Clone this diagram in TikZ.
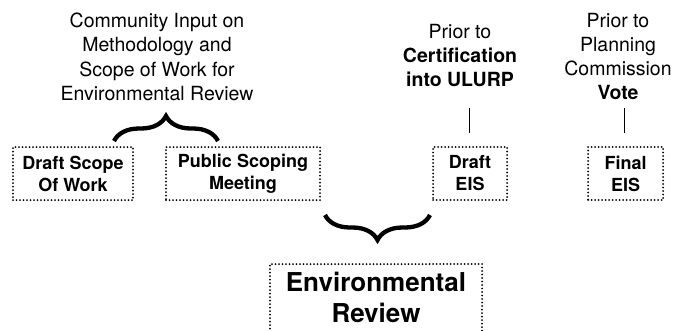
\documentclass[tikz,border=0pt]{standalone}
\usepackage{fontspec}
\setmainfont{TeX Gyre Heros}
\usetikzlibrary{decorations.pathreplacing}
\tikzset{
  dotline/.style={line width=2pt, line cap=round, dash pattern=on 0pt off 3.5pt},
  dotbox/.style={draw, dotline, inner sep=0pt, align=center, font=\bfseries\fontsize{18}{22}\selectfont},
  label/.style={inner sep=0pt, align=center, font=\fontsize{19.5}{24.5}\selectfont},
  bigbrace/.style={decorate, decoration={brace, amplitude=25pt}, line width=4.3pt},
  tick/.style={line width=1pt}
}
\begin{document}
\begin{tikzpicture}[x=1pt,y=-1pt]
\useasboundingbox (0,0) rectangle (687,330);
% boxes
\node[dotbox, minimum width=120pt, minimum height=53pt] (ds) at (73,173.5) {Draft Scope\\Of Work};
\node[dotbox, minimum width=154pt, minimum height=53pt] (ps) at (243,173.5) {Public Scoping\\Meeting};
\node[dotbox, minimum width=74pt, minimum height=53pt] (de) at (470,173.5) {Draft\\EIS};
\node[dotbox, minimum width=75pt, minimum height=53pt] (fe) at (625.5,173.5) {Final\\EIS};
% labels
\node[label] (ci) at (157,57) {Community Input on\\Methodology and\\Scope of Work for\\Environmental Review};
\node[label, font=\fontsize{19.5}{24}\selectfont] (pc) at (460,56) {Prior to\\\textbf{Certification}\\\textbf{into ULURP}};
\node[label, font=\fontsize{19.5}{24}\selectfont] (pv) at (618,56) {Prior to\\Planning\\Commission\\\textbf{Vote}};
% environmental review
\node[inner sep=0pt, align=center, font=\bfseries\fontsize{26}{31}\selectfont] (er) at (376,297.5) {Environmental\\Review};
\draw[dotline] (270,332) -- (270,264) -- (482,264) -- (482,332);
% ticks
\coordinate (t1a) at (469,108); \coordinate (t1b) at (469,133);
\coordinate (t2a) at (624,108); \coordinate (t2b) at (624,133);
\draw[tick] (t1a) -- (t1b);
\draw[tick] (t2a) -- (t2b);
% braces
\coordinate (b1a) at (114,141); \coordinate (b1b) at (218,141);
\coordinate (b2a) at (430,215); \coordinate (b2b) at (325,215);
\draw[bigbrace] (b1a) -- (b1b);
\draw[bigbrace] (b2a) -- (b2b);
\end{tikzpicture}
\end{document}
